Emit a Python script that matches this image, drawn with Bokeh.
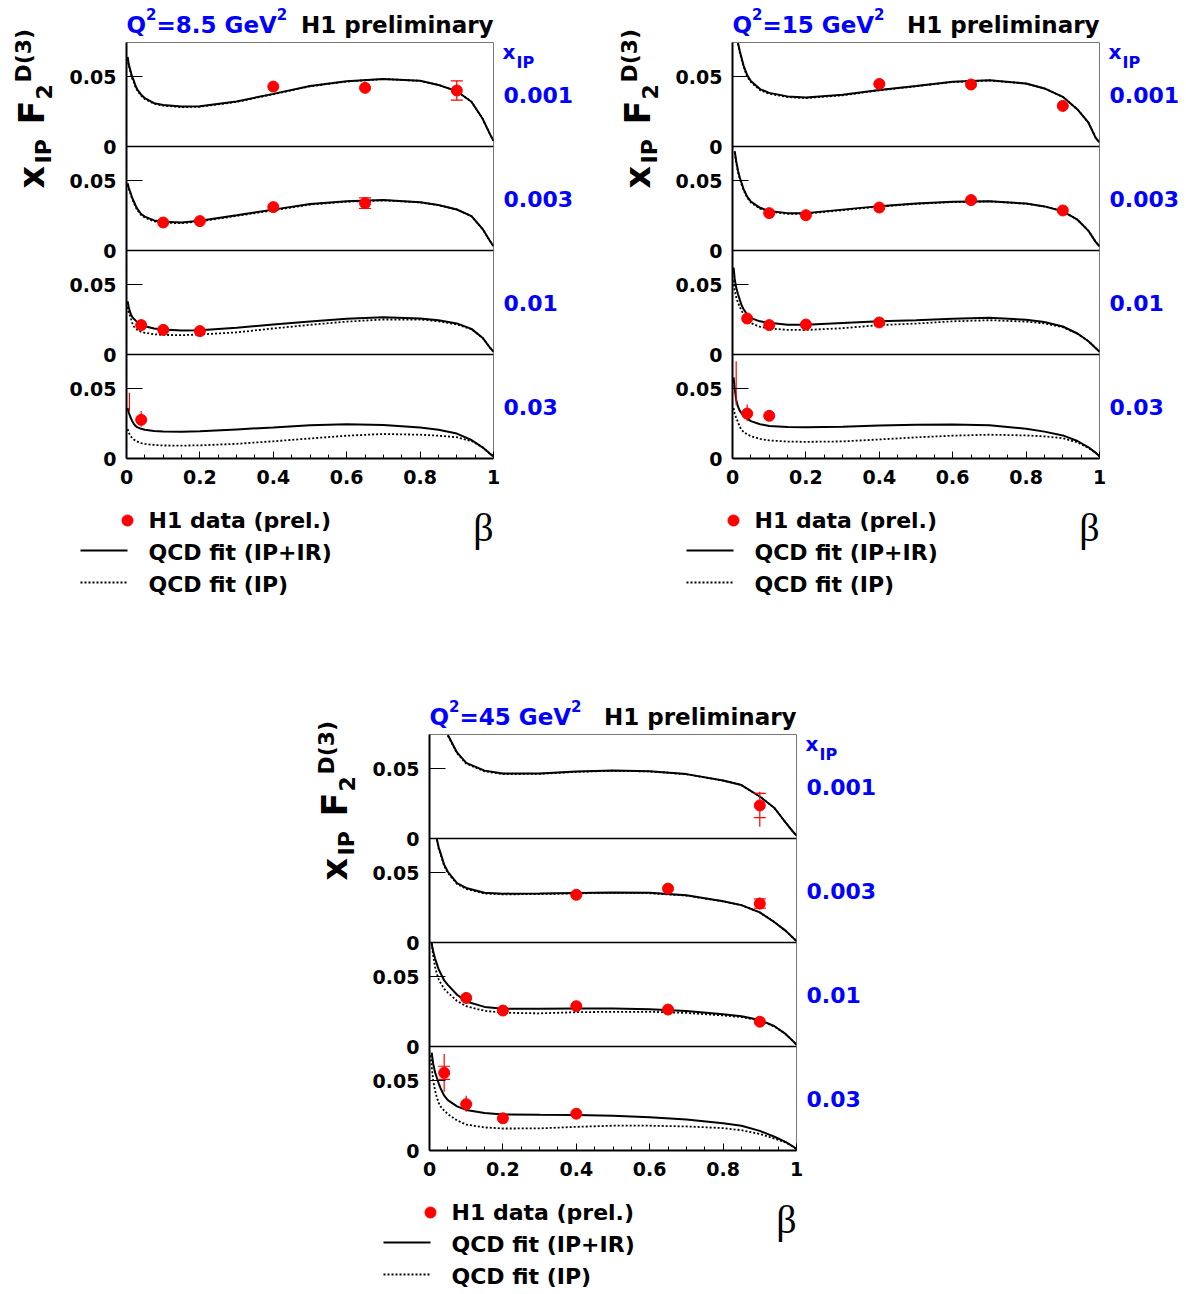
import numpy as np
from bokeh.plotting import figure
from bokeh.models import Range1d, FixedTicker, Spacer
from bokeh.layouts import row, column
from bokeh.embed import file_html
from bokeh.resources import INLINE
from bokeh.core.properties import value

NAN = float("nan")

# ---------------- labels / ticks ----------------
Q2_VALUES = ["=8.5 GeV", "=15 GeV", "=45 GeV"]     # printed as Q^2<value>^2
XIP_LABELS = ["0.001", "0.003", "0.01", "0.03"]
XTICKS = [0, 0.2, 0.4, 0.6, 0.8, 1.0]
XTICK_LABELS = ["0", "0.2", "0.4", "0.6", "0.8", "1"]
XMINOR = [0.05, 0.1, 0.15, 0.25, 0.3, 0.35, 0.45, 0.5, 0.55, 0.65, 0.7, 0.75, 0.85, 0.9, 0.95]
YTICKS = [0, 0.05]
YTICK_LABELS = ["0", "0.05"]
LEGEND_LABELS = ["H1 data (prel.)", "QCD fit (IP+IR)", "QCD fit (IP)"]

# ---------------- QCD fit curves (beta grid shared) ----------------
BETA_FIT = [0.003, 0.006, 0.01, 0.015, 0.02, 0.025, 0.03, 0.04, 0.05, 0.075, 0.1, 0.15, 0.2,
            0.3, 0.4, 0.5, 0.6, 0.7, 0.8, 0.85, 0.9, 0.94, 0.97, 0.99, 1.0]

G1_FIT_IPIR = [
    [0.064, 0.059, 0.055, 0.050, 0.047, 0.043, 0.0405, 0.037, 0.0345, 0.031, 0.0297, 0.0285, 0.0287,
     0.0322, 0.0376, 0.0432, 0.0466, 0.0483, 0.0470, 0.0440, 0.0395, 0.0320, 0.0200, 0.0090, 0.0040],
    [0.048, 0.045, 0.042, 0.038, 0.035, 0.032, 0.0295, 0.026, 0.0242, 0.0215, 0.0205, 0.0200, 0.0213,
     0.0252, 0.0292, 0.0332, 0.0352, 0.0360, 0.0345, 0.0325, 0.0293, 0.0245, 0.0155, 0.0070, 0.0030],
    [0.038, 0.034, 0.030, 0.027, 0.0255, 0.0242, 0.023, 0.0213, 0.0202, 0.0186, 0.0178, 0.0171, 0.0174,
     0.0191, 0.0214, 0.0235, 0.0256, 0.0267, 0.0257, 0.0244, 0.0222, 0.0183, 0.0120, 0.0050, 0.0020],
    [0.036, 0.033, 0.030, 0.027, 0.0248, 0.0232, 0.0222, 0.0212, 0.0206, 0.0197, 0.0193, 0.0192, 0.0194,
     0.0208, 0.0222, 0.0237, 0.0245, 0.0240, 0.0222, 0.0205, 0.0178, 0.0132, 0.0080, 0.0035, 0.0015],
]
G1_FIT_IP = [
    [0.063, 0.058, 0.054, 0.049, 0.046, 0.042, 0.0398, 0.0363, 0.0339, 0.0305, 0.0292, 0.0281, 0.0284,
     0.0319, 0.0373, 0.0430, 0.0464, 0.0482, 0.0469, 0.0440, 0.0395, 0.0320, 0.0200, 0.0090, 0.0040],
    [0.047, 0.044, 0.041, 0.037, 0.034, 0.031, 0.0287, 0.0253, 0.0235, 0.0209, 0.0199, 0.0195, 0.0208,
     0.0247, 0.0287, 0.0328, 0.0349, 0.0358, 0.0344, 0.0324, 0.0293, 0.0245, 0.0155, 0.0070, 0.0030],
    [0.034, 0.030, 0.0274, 0.023, 0.020, 0.0185, 0.0175, 0.0162, 0.0155, 0.0145, 0.0140, 0.0138, 0.0143,
     0.0158, 0.0186, 0.0212, 0.0235, 0.0250, 0.0250, 0.0237, 0.0215, 0.0180, 0.0120, 0.0050, 0.0020],
    [0.021, 0.0185, 0.0165, 0.0148, 0.0136, 0.0127, 0.0120, 0.0110, 0.0104, 0.0097, 0.0093, 0.0092, 0.0094,
     0.0105, 0.0123, 0.0143, 0.0163, 0.0175, 0.0170, 0.0163, 0.0152, 0.0125, 0.0080, 0.0035, 0.0015],
]
G2_FIT_IPIR = [
    [NAN, NAN, NAN, 0.0740, 0.068, 0.063, 0.058, 0.051, 0.0468, 0.0410, 0.0383, 0.0358, 0.0350,
     0.0370, 0.0404, 0.0432, 0.0463, 0.0473, 0.0450, 0.0415, 0.0355, 0.0265, 0.0170, 0.0060, 0.0030],
    [NAN, 0.071, 0.064, 0.057, 0.052, 0.048, 0.0440, 0.0385, 0.0350, 0.0305, 0.0283, 0.0267, 0.0267,
     0.0292, 0.0317, 0.0335, 0.0348, 0.0352, 0.0335, 0.0315, 0.0280, 0.0220, 0.0140, 0.0060, 0.0030],
    [0.062, 0.054, 0.048, 0.043, 0.039, 0.035, 0.0325, 0.0285, 0.0260, 0.0237, 0.0226, 0.0213, 0.0212,
     0.0225, 0.0238, 0.0245, 0.0256, 0.0262, 0.0248, 0.0232, 0.0200, 0.0150, 0.0095, 0.0045, 0.0020],
    [0.058, 0.050, 0.042, 0.037, 0.034, 0.0322, 0.0308, 0.0285, 0.0267, 0.0245, 0.0232, 0.0225, 0.0224,
     0.0226, 0.0236, 0.0242, 0.0243, 0.0238, 0.0212, 0.0192, 0.0165, 0.0125, 0.0080, 0.0040, 0.0015],
]
G2_FIT_IP = [
    [NAN, NAN, NAN, 0.0735, 0.067, 0.062, 0.057, 0.050, 0.0460, 0.0403, 0.0377, 0.0353, 0.0346,
     0.0366, 0.0401, 0.0430, 0.0461, 0.0472, 0.0449, 0.0415, 0.0355, 0.0265, 0.0170, 0.0060, 0.0030],
    [NAN, 0.070, 0.063, 0.056, 0.051, 0.047, 0.0432, 0.0378, 0.0343, 0.0299, 0.0277, 0.0262, 0.0263,
     0.0288, 0.0314, 0.0333, 0.0346, 0.0351, 0.0334, 0.0315, 0.0280, 0.0220, 0.0140, 0.0060, 0.0030],
    [0.053, 0.046, 0.041, 0.037, 0.034, 0.031, 0.0290, 0.0250, 0.0225, 0.0198, 0.0186, 0.0176, 0.0175,
     0.0188, 0.0210, 0.0221, 0.0237, 0.0245, 0.0235, 0.0222, 0.0195, 0.0148, 0.0095, 0.0045, 0.0020],
    [0.036, 0.032, 0.029, 0.026, 0.0225, 0.0205, 0.0190, 0.0172, 0.0160, 0.0140, 0.0129, 0.0121, 0.0119,
     0.0122, 0.0136, 0.0151, 0.0163, 0.0170, 0.0165, 0.0158, 0.0145, 0.0115, 0.0075, 0.0040, 0.0015],
]
G3_FIT_IPIR = [
    [NAN, NAN, NAN, NAN, NAN, NAN, NAN, NAN, 0.0740, 0.0615, 0.0540, 0.0485, 0.0464,
     0.0465, 0.0478, 0.0486, 0.0480, 0.0460, 0.0415, 0.0382, 0.0300, 0.0218, 0.0115, 0.0050, 0.0020],
    [NAN, NAN, NAN, NAN, 0.0740, 0.068, 0.064, 0.0555, 0.0505, 0.0425, 0.0390, 0.0356, 0.0349,
     0.0350, 0.0354, 0.0358, 0.0355, 0.0337, 0.0295, 0.0267, 0.0215, 0.0145, 0.0085, 0.0035, 0.0010],
    [NAN, 0.0735, 0.068, 0.063, 0.059, 0.055, 0.0525, 0.0472, 0.0440, 0.0370, 0.0322, 0.0283, 0.0269,
     0.0269, 0.0271, 0.0271, 0.0266, 0.0253, 0.0230, 0.0216, 0.0190, 0.0145, 0.0090, 0.0040, 0.0012],
    [NAN, 0.070, 0.062, 0.056, 0.052, 0.048, 0.0445, 0.0392, 0.0360, 0.0315, 0.0290, 0.0268, 0.0258,
     0.0255, 0.0254, 0.0249, 0.0238, 0.0221, 0.0195, 0.0177, 0.0140, 0.0098, 0.0062, 0.0030, 0.0010],
]
G3_FIT_IP = [
    [NAN, NAN, NAN, NAN, NAN, NAN, NAN, NAN, 0.0735, 0.0610, 0.0535, 0.0480, 0.0460,
     0.0462, 0.0476, 0.0484, 0.0479, 0.0459, 0.0414, 0.0381, 0.0300, 0.0218, 0.0115, 0.0050, 0.0020],
    [NAN, NAN, NAN, NAN, 0.0735, 0.067, 0.063, 0.0547, 0.0497, 0.0418, 0.0383, 0.0350, 0.0344,
     0.0346, 0.0351, 0.0355, 0.0352, 0.0335, 0.0294, 0.0266, 0.0215, 0.0145, 0.0085, 0.0035, 0.0010],
    [NAN, 0.0740, 0.065, 0.057, 0.052, 0.048, 0.0455, 0.0412, 0.0385, 0.0325, 0.0288, 0.0255, 0.0241,
     0.0237, 0.0245, 0.0248, 0.0248, 0.0240, 0.0222, 0.0210, 0.0186, 0.0143, 0.0090, 0.0040, 0.0012],
    [0.068, 0.060, 0.050, 0.043, 0.038, 0.034, 0.0315, 0.0285, 0.0260, 0.0215, 0.0185, 0.0165, 0.0157,
     0.0158, 0.0169, 0.0177, 0.0177, 0.0172, 0.0160, 0.0145, 0.0118, 0.0085, 0.0058, 0.0028, 0.0010],
]

# ---------------- H1 data points (per x_IP panel) ----------------
G1_BETA = [[0.4, 0.65, 0.9], [0.1, 0.2, 0.4, 0.65], [0.04, 0.1, 0.2], [0.04]]
G1_F = [[0.0428, 0.0419, 0.0400], [0.0200, 0.0210, 0.0310, 0.0338], [0.0210, 0.0176, 0.0167], [0.0276]]
G1_ERR_UP = [[0.0035, 0.0030, 0.0070], [0.0010, 0.0012, 0.0015, 0.0040], [0.0010, 0.0010, 0.0010], [0.0064]]
G1_ERR_DN = [[0.0035, 0.0030, 0.0070], [0.0010, 0.0012, 0.0015, 0.0040], [0.0010, 0.0010, 0.0010], [0.0050]]
G1_STAT = [[0, 0, 0.0069], [0, 0, 0, 0.0038], [0, 0, 0], [0]]
G1_BAR_PANEL = [3]
G1_BAR_BETA = [0.008]
G1_BAR_LO = [0.034]
G1_BAR_HI = [0.047]

G2_BETA = [[0.4, 0.65, 0.9], [0.1, 0.2, 0.4, 0.65, 0.9], [0.04, 0.1, 0.2, 0.4], [0.04, 0.1]]
G2_F = [[0.0447, 0.0443, 0.0290], [0.0267, 0.0252, 0.0307, 0.0360, 0.0286],
        [0.0257, 0.0210, 0.0214, 0.0229], [0.0321, 0.0305]]
G2_ERR_UP = [[0.0015, 0.0015, 0.0015], [0.0012, 0.0012, 0.0012, 0.0015, 0.0015],
             [0.0012, 0.0012, 0.0012, 0.0012], [0.0065, 0.0015]]
G2_ERR_DN = [[0.0015, 0.0015, 0.0015], [0.0012, 0.0012, 0.0012, 0.0015, 0.0015],
             [0.0012, 0.0012, 0.0012, 0.0012], [0.0054, 0.0015]]
G2_STAT = [[0, 0, 0], [0, 0, 0, 0, 0], [0, 0, 0, 0], [0, 0]]
G2_BAR_PANEL = [3]
G2_BAR_BETA = [0.010]
G2_BAR_LO = [0.038]
G2_BAR_HI = [0.0695]

G3_BETA = [[0.9], [0.4, 0.65, 0.9], [0.1, 0.2, 0.4, 0.65, 0.9], [0.04, 0.1, 0.2, 0.4]]
G3_F = [[0.0236], [0.0341, 0.0385, 0.0278], [0.0347, 0.0257, 0.0288, 0.0264, 0.0177],
        [0.0555, 0.0331, 0.0230, 0.0263]]
G3_ERR_UP = [[0.0098], [0.0012, 0.0030, 0.0042], [0.0012, 0.0012, 0.0012, 0.0012, 0.0012],
             [0.0135, 0.0060, 0.0012, 0.0012]]
G3_ERR_DN = [[0.0152], [0.0012, 0.0030, 0.0042], [0.0012, 0.0012, 0.0012, 0.0012, 0.0012],
             [0.0135, 0.0055, 0.0012, 0.0012]]
G3_STAT = [[0.0087], [0, 0, 0.0033], [0, 0, 0, 0, 0], [0.0047, 0, 0, 0]]
G3_BAR_PANEL = []
G3_BAR_BETA = []
G3_BAR_LO = []
G3_BAR_HI = []

# ---------------- layout constants (pixels) ----------------
H = 0.0743            # visible y span of one panel
PH = 104              # panel height
FW = 367              # frame width
LEFT_W = 60           # strip holding the rotated y title
AXL = 66              # left border of the main plot (y tick labels)
AXR = 8               # right border of the main plot (room for the "1" tick label)
MAIN_W = AXL + FW + AXR
RIGHT_W = 580 - LEFT_W - MAIN_W   # strip holding the x_IP labels
HEAD_H = 41           # strip holding the title
AXB = 34              # bottom border of the main plot (x tick labels)
RX0 = LEFT_W + MAIN_W  # group x where the right strip starts
FOOT_Y0 = HEAD_H + 1 + 4 * PH + AXB   # group y where the footer starts
RANGE_NAMES = ["p0", "p1", "p2", "default"]
FONT = "DejaVu Sans"
BLUE = "#0000ff"
RED = "#ff0000"
TITLE_PX, SUP_PX = 23, 15
# DejaVu Sans Bold advance widths (em) used to chain the title pieces
ADV = {"Q": 0.850, "=": 0.838, ".": 0.381, " ": 0.348, "G": 0.821, "e": 0.678, "V": 0.774,
       "2": 0.696}


def adv(s, px):
    return sum(ADV.get(c, 0.696) for c in s) * px


def text_strip(w, h):
    """A blank figure whose data units are pixels (y measured downward)."""
    p = figure(width=w, height=h, min_border=0, x_range=Range1d(0, w), y_range=Range1d(h, 0),
               x_axis_location=None, y_axis_location=None, output_backend="svg",
               toolbar_location=None, frame_align=False)
    p.xgrid.visible = False
    p.ygrid.visible = False
    p.outline_line_color = None
    p.background_fill_color = "white"
    p.border_fill_color = "white"
    return p


def txt(p, x, y, text, size, color="black", align="left", angle=0.0, font=FONT, style="bold"):
    p.text(x=[x], y=[y], text=[text], text_font=value(font), text_font_style=style,
           text_font_size=value(f"{size}px"), text_color=color, text_align=align,
           text_baseline="middle", angle=angle)


def main_plot(betas, fs, eup, edn, stat, fit_a, fit_b, bar_panel, bar_beta, bar_lo, bar_hi):
    p = figure(frame_width=FW, frame_height=4 * PH, min_border_left=AXL, min_border_right=AXR,
               min_border_top=1, min_border_bottom=AXB, x_range=Range1d(0, 1),
               y_range=Range1d(0, 4 * H), output_backend="svg", toolbar_location=None,
               frame_align=False)
    p.extra_y_ranges = {"p0": Range1d(-3 * H, H), "p1": Range1d(-2 * H, 2 * H),
                        "p2": Range1d(-H, 3 * H)}
    p.xgrid.visible = False
    p.ygrid.visible = False
    p.background_fill_color = "white"
    p.border_fill_color = "white"
    p.outline_line_color = "#777777"
    p.outline_line_width = 1

    xa = p.xaxis[0]
    xa.ticker = FixedTicker(ticks=XTICKS, minor_ticks=XMINOR)
    xa.major_label_overrides = {t: l for t, l in zip(XTICKS, XTICK_LABELS)}
    xa.major_tick_in, xa.major_tick_out = 7, 0
    xa.minor_tick_in, xa.minor_tick_out = 4, 0
    xa.axis_line_width = 2
    xa.major_label_standoff = 11
    xa.major_label_text_font = FONT
    xa.major_label_text_font_style = "bold"
    xa.major_label_text_font_size = "19px"
    xa.major_label_text_color = "black"

    # one y axis carrying the 0 / 0.05 ticks of all four stacked panels
    ya = p.yaxis[0]
    yt, yl = [], []
    for k in range(4):
        for t, l in zip(YTICKS, YTICK_LABELS):
            yt.append(round((3 - k) * H + t, 6))
            yl.append(l)
    ya.ticker = FixedTicker(ticks=yt, minor_ticks=[])
    ya.major_label_overrides = {t: l for t, l in zip(yt, yl)}
    ya.major_tick_in, ya.major_tick_out = 16, 0
    ya.minor_tick_in, ya.minor_tick_out = 0, 0
    ya.axis_line_width = 2
    ya.major_label_standoff = 10
    ya.major_label_text_font = FONT
    ya.major_label_text_font_style = "bold"
    ya.major_label_text_font_size = "19px"
    ya.major_label_text_color = "black"

    for k in range(4):
        rn = RANGE_NAMES[k]
        if k < 3:
            p.hspan(y=[0], line_color="black", line_width=1.5, y_range_name=rn)
        p.line(BETA_FIT, fit_b[k], line_color="black", line_width=1.8, line_dash="2 2",
               y_range_name=rn)
        p.line(BETA_FIT, fit_a[k], line_color="black", line_width=2, y_range_name=rn)
        b, f = betas[k], fs[k]
        p.segment(x0=b, x1=b, y0=[v - d for v, d in zip(f, edn[k])],
                  y1=[v + u for v, u in zip(f, eup[k])], line_color=RED, line_width=1.2,
                  y_range_name=rn)
        cb = [bb for bb, s in zip(b, stat[k]) if s > 0]
        if cb:
            ct = [v + s for v, s in zip(f, stat[k]) if s > 0]
            cl = [v - s for v, s in zip(f, stat[k]) if s > 0]
            p.scatter(cb + cb, ct + cl, marker="dash", size=12, line_color=RED, line_width=1.2,
                      y_range_name=rn)
        bi = [i for i, pk in enumerate(bar_panel) if pk == k]
        if bi:
            xb = [bar_beta[i] for i in bi]
            p.segment(x0=xb, x1=xb, y0=[bar_lo[i] for i in bi], y1=[bar_hi[i] for i in bi],
                      line_color=RED, line_width=1.2, y_range_name=rn)
        p.scatter(b, f, size=11, marker="circle", fill_color=RED, line_color=RED,
                  y_range_name=rn)
    return p


def make_group(qi, betas, fs, eup, edn, stat, fit_a, fit_b, bar_panel, bar_beta, bar_lo, bar_hi,
               foot_h):
    total_h = FOOT_Y0 + foot_h
    main = main_plot(betas, fs, eup, edn, stat, fit_a, fit_b, bar_panel, bar_beta, bar_lo, bar_hi)

    # title strip above the frame (strip x = group x - LEFT_W): Q^2=... GeV^2  H1 preliminary
    head = text_strip(MAIN_W, HEAD_H)
    x = 126 - LEFT_W
    txt(head, x, 24, "Q", TITLE_PX, color=BLUE)
    x += adv("Q", TITLE_PX)
    txt(head, x, 13, "2", SUP_PX, color=BLUE)
    x += adv("2", SUP_PX)
    txt(head, x, 24, Q2_VALUES[qi], TITLE_PX, color=BLUE)
    x += adv(Q2_VALUES[qi], TITLE_PX)
    txt(head, x, 13, "2", SUP_PX, color=BLUE)
    txt(head, 493 - LEFT_W, 24, "H1 preliminary", TITLE_PX, align="right")

    # left strip: rotated y title  x_IP F_2^D(3)  (text centre lines)
    left = text_strip(LEFT_W, total_h)
    ang = np.pi / 2
    txt(left, 31, 188, "x", 35, angle=ang)
    txt(left, 43, 163, "IP", 22, angle=ang)
    txt(left, 31, 124, "F", 35, angle=ang)
    txt(left, 43, 99, "2", 22, angle=ang)
    txt(left, 23, 82, "D(3)", 22, angle=ang)

    # right strip: x_IP header and values (strip x = group x - RX0)
    right = text_strip(RIGHT_W, total_h)
    txt(right, 502 - RX0, 51, "x", 20, color=BLUE)
    txt(right, 516 - RX0, 62, "IP", 16, color=BLUE)
    for k in range(4):
        txt(right, 503 - RX0, HEAD_H + 1 + PH * k + PH // 2, XIP_LABELS[k], 22, color=BLUE)

    # footer: legend keys, legend texts and beta (strip y = group y - FOOT_Y0)
    foot = text_strip(MAIN_W, foot_h)
    txt(foot, 483 - LEFT_W, 527 - FOOT_Y0, "β", 40, align="center",
        font="Liberation Serif", style="normal")
    foot.scatter([127 - LEFT_W], [520 - FOOT_Y0], size=11, marker="circle", fill_color=RED,
                 line_color=RED)
    foot.segment(x0=[80 - LEFT_W], x1=[127 - LEFT_W], y0=[550 - FOOT_Y0], y1=[550 - FOOT_Y0],
                 line_color="black", line_width=2)
    foot.segment(x0=[80 - LEFT_W], x1=[127 - LEFT_W], y0=[582 - FOOT_Y0], y1=[582 - FOOT_Y0],
                 line_color="black", line_width=1.8, line_dash="2 2")
    for i, lab in enumerate(LEGEND_LABELS):
        txt(foot, 148 - LEFT_W, 520 + 32 * i - FOOT_Y0, lab, 22)

    return row(left, column(head, main, foot), right)


g1 = make_group(0, G1_BETA, G1_F, G1_ERR_UP, G1_ERR_DN, G1_STAT, G1_FIT_IPIR, G1_FIT_IP,
                G1_BAR_PANEL, G1_BAR_BETA, G1_BAR_LO, G1_BAR_HI, 200)
g2 = make_group(1, G2_BETA, G2_F, G2_ERR_UP, G2_ERR_DN, G2_STAT, G2_FIT_IPIR, G2_FIT_IP,
                G2_BAR_PANEL, G2_BAR_BETA, G2_BAR_LO, G2_BAR_HI, 200)
g3 = make_group(2, G3_BETA, G3_F, G3_ERR_UP, G3_ERR_DN, G3_STAT, G3_FIT_IPIR, G3_FIT_IP,
                G3_BAR_PANEL, G3_BAR_BETA, G3_BAR_LO, G3_BAR_HI, 110)

layout = column(row(g1, Spacer(width=26, height=692), g2),
                row(Spacer(width=303, height=602), g3))

open("out.html", "w").write(file_html(layout, INLINE))
